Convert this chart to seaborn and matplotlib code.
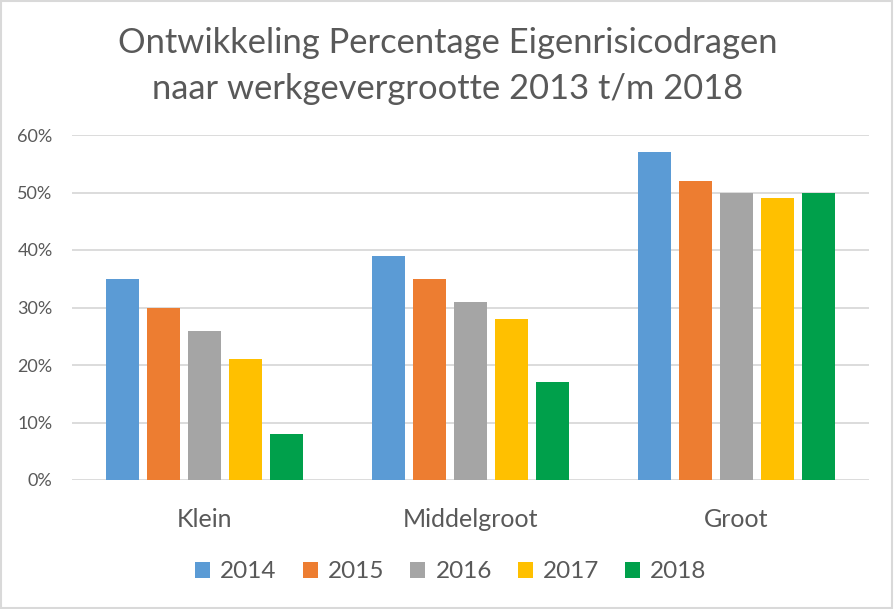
import matplotlib
matplotlib.use("Agg")
import matplotlib.pyplot as plt
import seaborn as sns
import pandas as pd
from matplotlib.patches import Rectangle
from matplotlib.ticker import PercentFormatter

categories = ["Klein", "Middelgroot", "Groot"]
years = ["2014", "2015", "2016", "2017", "2018"]
v2014 = [0.35, 0.39, 0.57]
v2015 = [0.30, 0.35, 0.52]
v2016 = [0.26, 0.31, 0.50]
v2017 = [0.21, 0.28, 0.49]
v2018 = [0.08, 0.17, 0.50]
colors = ["#5B9BD5", "#ED7D31", "#A5A5A5", "#FFC000", "#00A04B"]

series = [v2014, v2015, v2016, v2017, v2018]
rows = []
for y, vals in zip(years, series):
    for c, v in zip(categories, vals):
        rows.append({"cat": c, "year": y, "val": v})
df = pd.DataFrame(rows)

sns.set_theme(style="white")
plt.rcParams["font.family"] = ["Lato", "DejaVu Sans"]
txt = "#595959"

fig = plt.figure(figsize=(8.94, 6.09), dpi=100)
ax = fig.add_axes([72/894, 1-480/609, (869-72)/894, (480-135)/609])
sns.barplot(data=df, x="cat", y="val", hue="year", order=categories, hue_order=years,
            palette=colors, width=0.772, gap=0.195, ax=ax, saturation=1, legend=True,
            linewidth=0, edgecolor="none")
ax.set_ylim(0, 0.6)
ax.set_xlim(-0.5, 2.5)
ax.set_yticks([0, 0.1, 0.2, 0.3, 0.4, 0.5, 0.6])
ax.yaxis.set_major_formatter(PercentFormatter(1.0, decimals=0))
ax.grid(axis="y", color="#D9D9D9", linewidth=1.3)
ax.set_axisbelow(True)
for s in ax.spines.values():
    s.set_visible(False)
ax.set_xlabel("")
ax.set_ylabel("")
ax.tick_params(axis="y", labelsize=13, colors=txt, length=0, pad=14)
ax.tick_params(axis="x", labelsize=18, colors=txt, length=0, pad=20)

handles, labels = ax.get_legend_handles_labels()
ax.legend(handles, labels, loc="center", bbox_to_anchor=(451/894, (609-572)/609),
          bbox_transform=fig.transFigure, ncol=5, frameon=False, fontsize=17.5,
          labelcolor=txt, handlelength=0.62, handleheight=0.62, handletextpad=0.41,
          columnspacing=1.07)

fig.text(448/894, 1-53/609, "Ontwikkeling Percentage Eigenrisicodragen", ha="center",
         va="baseline", fontsize=24.8, color=txt)
fig.text(448/894, 1-99/609, "naar werkgevergrootte 2013 t/m 2018", ha="center",
         va="baseline", fontsize=24.8, color=txt)

fig.patches.append(Rectangle((0.001, 0.001), 0.997, 0.997, transform=fig.transFigure,
                             fill=False, edgecolor="#D9D9D9", linewidth=1.5))
fig.savefig("out.png", dpi=100)
